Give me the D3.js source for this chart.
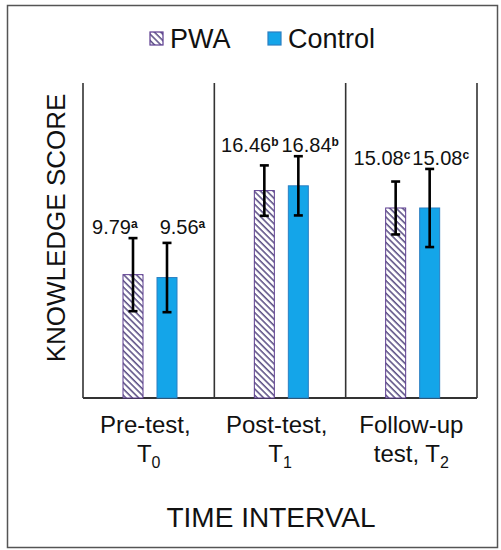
<!DOCTYPE html>
<html>
<head>
<meta charset="utf-8">
<script src="https://cdn.jsdelivr.net/npm/d3@7"></script>
<style>
  html, body { margin: 0; padding: 0; background: #fff; }
  text { font-family: Arial, "Liberation Sans", sans-serif; fill: #111; }
</style>
</head>
<body>
<div id="container"></div>
<script>
// chart values
const categories = ["Pre-test", "Post-test", "Follow-up"];
const tickLine1 = ["Pre-test, ", "Post-test, ", "Follow-up"];
const tickLine2 = ["T", "T", "test, T"];
const tickSub = ["0", "1", "2"];
const series = ["PWA", "Control"];
const pwaMeans = [9.79, 16.46, 15.08];
const controlMeans = [9.56, 16.84, 15.08];
const pwaSD = [2.9, 2.0, 2.1];
const controlSD = [2.75, 2.35, 3.1];
const letters = ["a", "b", "c"];

// layout
const W = 501, H = 550;
const plot = { left: 83, right: 477, top: 83, bottom: 398 };
const labelGap = [11, 1.5, 1];
const pwaColor = "#5b3b8f";
const ctrlFill = "#14a5e9";
const ctrlStroke = "#2b7fc2";

const data = categories.map((c, i) => ({
  cat: c,
  idx: i,
  bars: [
    { s: "PWA", mean: pwaMeans[i], sd: pwaSD[i] },
    { s: "Control", mean: controlMeans[i], sd: controlSD[i] }
  ]
}));

const svg = d3.select("#container").append("svg")
  .attr("width", W).attr("height", H);

const defs = svg.append("defs");
const pat = defs.append("pattern")
  .attr("id", "hatch")
  .attr("patternUnits", "userSpaceOnUse")
  .attr("width", 4.5).attr("height", 4.5)
  .attr("patternTransform", "rotate(-45)");
pat.append("rect").attr("width", 4.5).attr("height", 4.5).attr("fill", "#fff");
pat.append("line")
  .attr("x1", 1).attr("y1", 0).attr("x2", 1).attr("y2", 4.5)
  .attr("stroke", "#3d2f6e").attr("stroke-width", 1.3);

// outer frame
svg.append("rect")
  .attr("x", 7.5).attr("y", 5.5)
  .attr("width", 490).attr("height", 542)
  .attr("fill", "none").attr("stroke", "#555").attr("stroke-width", 1.5);

const x0 = d3.scaleBand().domain(categories).range([plot.left, plot.right]);
const x1 = d3.scaleBand().domain(series).range([40, 94]).paddingInner(14 / 34);
const y = d3.scaleLinear().domain([0, 25]).range([plot.bottom, plot.top]);

// panel lines
svg.append("g").selectAll("line")
  .data([categories[0]].concat(categories))
  .join("line")
  .attr("x1", (d, i) => i === 0 ? x0(d) : x0(d) + x0.bandwidth())
  .attr("x2", (d, i) => i === 0 ? x0(d) : x0(d) + x0.bandwidth())
  .attr("y1", y(25)).attr("y2", y(0))
  .attr("stroke", "#333").attr("stroke-width", 1.6);

svg.append("line")
  .attr("x1", plot.left).attr("x2", plot.right)
  .attr("y1", y(0)).attr("y2", y(0))
  .attr("stroke", "#333").attr("stroke-width", 1.8);

const g = svg.append("g").selectAll("g")
  .data(data).join("g")
  .attr("transform", d => `translate(${x0(d.cat)},0)`);

g.selectAll("rect")
  .data(d => d.bars).join("rect")
  .attr("x", d => x1(d.s))
  .attr("y", d => y(d.mean))
  .attr("width", x1.bandwidth())
  .attr("height", d => y(0) - y(d.mean))
  .attr("fill", d => d.s === "PWA" ? "url(#hatch)" : ctrlFill)
  .attr("stroke", d => d.s === "PWA" ? pwaColor : ctrlStroke)
  .attr("stroke-width", 1);

// error bars
const eb = g.selectAll("g.err")
  .data(d => d.bars).join("g").attr("class", "err")
  .attr("stroke", "#000").attr("stroke-width", 2.6);
const cx = d => x1(d.s) + x1.bandwidth() / 2;
eb.append("line")
  .attr("x1", cx).attr("x2", cx)
  .attr("y1", d => y(d.mean + d.sd)).attr("y2", d => y(d.mean - d.sd));
eb.append("line")
  .attr("x1", d => cx(d) - 4.5).attr("x2", d => cx(d) + 4.5)
  .attr("y1", d => y(d.mean + d.sd)).attr("y2", d => y(d.mean + d.sd));
eb.append("line")
  .attr("x1", d => cx(d) - 4.5).attr("x2", d => cx(d) + 4.5)
  .attr("y1", d => y(d.mean - d.sd)).attr("y2", d => y(d.mean - d.sd));

// data labels
g.each(function (d) {
  const top = d3.min(d.bars, b => y(b.mean + b.sd)) - 4;
  const mid = x0.bandwidth() / 2;
  d.bars.forEach((b, j) => {
    const t = d3.select(this).append("text")
      .attr("x", j === 0 ? mid - labelGap[d.idx] : mid + labelGap[d.idx])
      .attr("y", top)
      .attr("text-anchor", j === 0 ? "end" : "start")
      .style("font-size", "20px");
    t.append("tspan").text(b.mean.toFixed(2));
    t.append("tspan").text(letters[d.idx])
      .attr("dy", -6).style("font-size", "12px").style("font-weight", "bold");
  });
});

// category labels
const tl = svg.append("g").selectAll("text")
  .data(categories).join("text")
  .attr("text-anchor", "middle")
  .style("font-size", "24px")
  .style("white-space", "pre");
tl.append("tspan")
  .attr("x", d => x0(d) + x0.bandwidth() / 2)
  .attr("y", 433)
  .text((d, i) => tickLine1[i]);
tl.append("tspan")
  .attr("x", d => x0(d) + x0.bandwidth() / 2)
  .attr("y", 462)
  .text((d, i) => tickLine2[i]);
tl.append("tspan")
  .attr("dy", 6)
  .style("font-size", "16px")
  .text((d, i) => tickSub[i]);

// axis titles
svg.append("text")
  .attr("transform", "translate(65,228) rotate(-90)")
  .attr("text-anchor", "middle")
  .style("font-size", "26px")
  .text("KNOWLEDGE SCORE");

svg.append("text")
  .attr("x", 271).attr("y", 527)
  .attr("text-anchor", "middle")
  .style("font-size", "28px")
  .text("TIME INTERVAL");

// legend
const legend = svg.append("g");
const legendX = [150, 268];
series.forEach((s, i) => {
  legend.append("rect")
    .attr("x", legendX[i]).attr("y", 32)
    .attr("width", 13).attr("height", 13)
    .attr("fill", i === 0 ? "url(#hatch)" : ctrlFill)
    .attr("stroke", i === 0 ? pwaColor : ctrlStroke)
    .attr("stroke-width", 1.2);
  legend.append("text")
    .attr("x", legendX[i] + 20).attr("y", 48)
    .style("font-size", "27px")
    .text(s);
});
</script>
</body>
</html>
